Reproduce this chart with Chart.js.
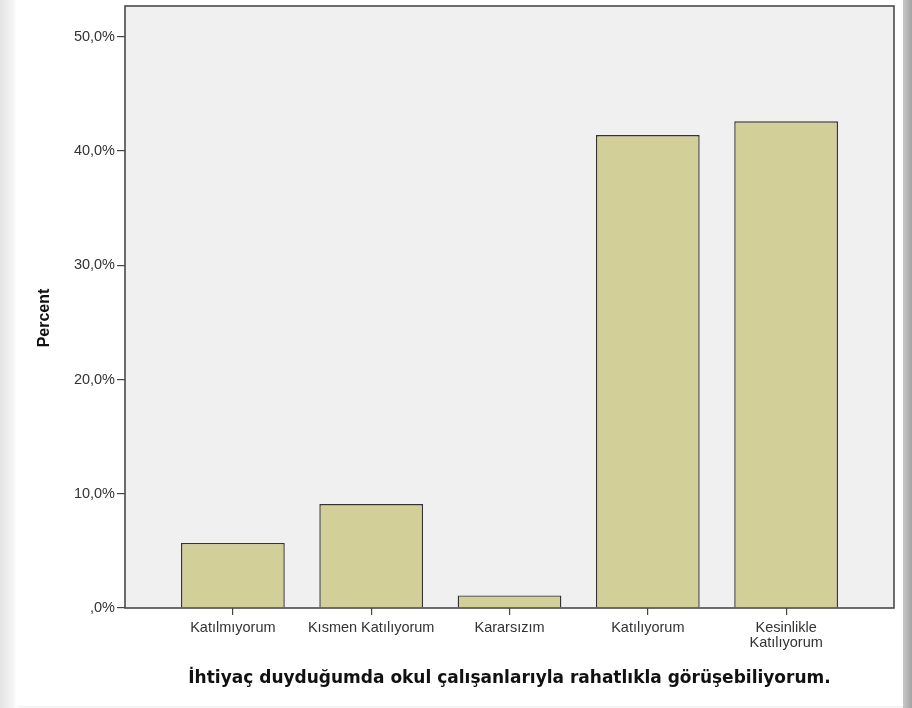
<!DOCTYPE html>
<html>
<head>
<meta charset="utf-8">
<script src="https://cdn.jsdelivr.net/npm/chart.js@4"></script>
<style>
  body { margin: 0; width: 912px; height: 708px; overflow: hidden;
         background: linear-gradient(to right, #e4e4e4 0px, #f6f6f6 14px, #ffffff 16px); position: relative; }
  #card { position: absolute; left: 16px; top: 0; width: 887px; height: 706px; background: #fff;
          box-shadow: 2px 1px 2px rgba(0,0,0,0.08); }
  #rightEdge { position: absolute; left: 903px; top: 0; width: 9px; height: 708px;
               background: linear-gradient(to right, #c8c8c8, #a4a4a4); }
  #wrap { position: absolute; left: 0; top: 0; width: 912px; height: 708px; }
</style>
</head>
<body>
<div id="card"></div>
<div id="rightEdge"></div>
<div id="wrap"><canvas id="myChart" width="912" height="708"></canvas></div>
<script>
  // Data
  const categories = ['Katılmıyorum', 'Kısmen Katılıyorum', 'Kararsızım', 'Katılıyorum', ['Kesinlikle', 'Katılıyorum']];
  const percents = [5.7, 9.1, 1.1, 41.4, 42.6];
  const yTicks = [0, 10, 20, 30, 40, 50];
  const xTitle = 'İhtiyaç duyduğumda okul çalışanlarıyla rahatlıkla görüşebiliyorum.';
  const yTitle = 'Percent';

  const fmtPct = v => (v === 0 ? '' : String(Math.floor(v))) + ',' + '0%';

  // Plot background + frame + axis titles
  const frame = {
    id: 'frame',
    beforeDatasetsDraw(chart) {
      const { ctx, chartArea: a } = chart;
      ctx.save();
      ctx.fillStyle = '#f0f0f0';
      ctx.fillRect(a.left, a.top, a.right - a.left, a.bottom - a.top);
      ctx.restore();
    },
    afterDraw(chart) {
      const { ctx, chartArea: a } = chart;
      ctx.save();
      ctx.strokeStyle = '#4a4a4a';
      ctx.lineWidth = 1.6;
      ctx.strokeRect(a.left, a.top, a.right - a.left, a.bottom - a.top);
      ctx.fillStyle = '#111';
      ctx.textAlign = 'center';
      ctx.textBaseline = 'middle';
      ctx.font = 'bold 17px "DejaVu Sans"';
      ctx.fillText(xTitle, (a.left + a.right) / 2, 679);
      ctx.translate(45, 318);
      ctx.rotate(-Math.PI / 2);
      ctx.font = 'bold 16px "Liberation Sans"';
      ctx.fillText(yTitle, 0, 0);
      ctx.restore();
    }
  };

  const ctx = document.getElementById('myChart').getContext('2d');

  const myChart = new Chart(ctx, {
    type: 'bar',
    data: {
      datasets: [{
        data: percents.map((v, i) => ({ x: i, y: v })),
        backgroundColor: '#d3cf98',
        borderColor: '#333',
        borderWidth: 1.4,
        barPercentage: 0.75,
        categoryPercentage: 1
      }]
    },
    options: {
      responsive: false,
      animation: false,
      layout: { padding: { top: 6, right: 18, left: 0, bottom: 0 } },
      plugins: { legend: { display: false }, tooltip: { enabled: false } },
      scales: {
        x: {
          type: 'linear',
          offset: false,
          min: -0.78,
          max: 4.78,
          afterBuildTicks: axis => { axis.ticks = categories.map((_, i) => ({ value: i })); },
          afterFit: axis => { axis.height = 100; axis.paddingLeft = 0; axis.paddingRight = 0; },
          grid: { offset: false, drawOnChartArea: false, drawTicks: true, tickLength: 7, color: '#444', lineWidth: 1.2 },
          border: { display: false },
          ticks: {
            callback: v => categories[v],
            color: '#333',
            font: { family: 'Liberation Sans', size: 14.5, lineHeight: 1 },
            padding: 6,
            maxRotation: 0,
            autoSkip: false
          }
        },
        y: {
          min: 0,
          max: 52.7,
          afterBuildTicks: axis => { axis.ticks = yTicks.map(v => ({ value: v })); },
          afterFit: axis => { axis.width = 125; axis.paddingTop = 0; axis.paddingBottom = 0; },
          grid: { drawOnChartArea: false, drawTicks: true, tickLength: 8, color: '#444', lineWidth: 1.2 },
          border: { display: false },
          ticks: {
            callback: v => fmtPct(v),
            color: '#333',
            font: { family: 'Liberation Sans', size: 14.5 },
            padding: 2
          }
        }
      }
    },
    plugins: [frame]
  });
</script>
</body>
</html>
